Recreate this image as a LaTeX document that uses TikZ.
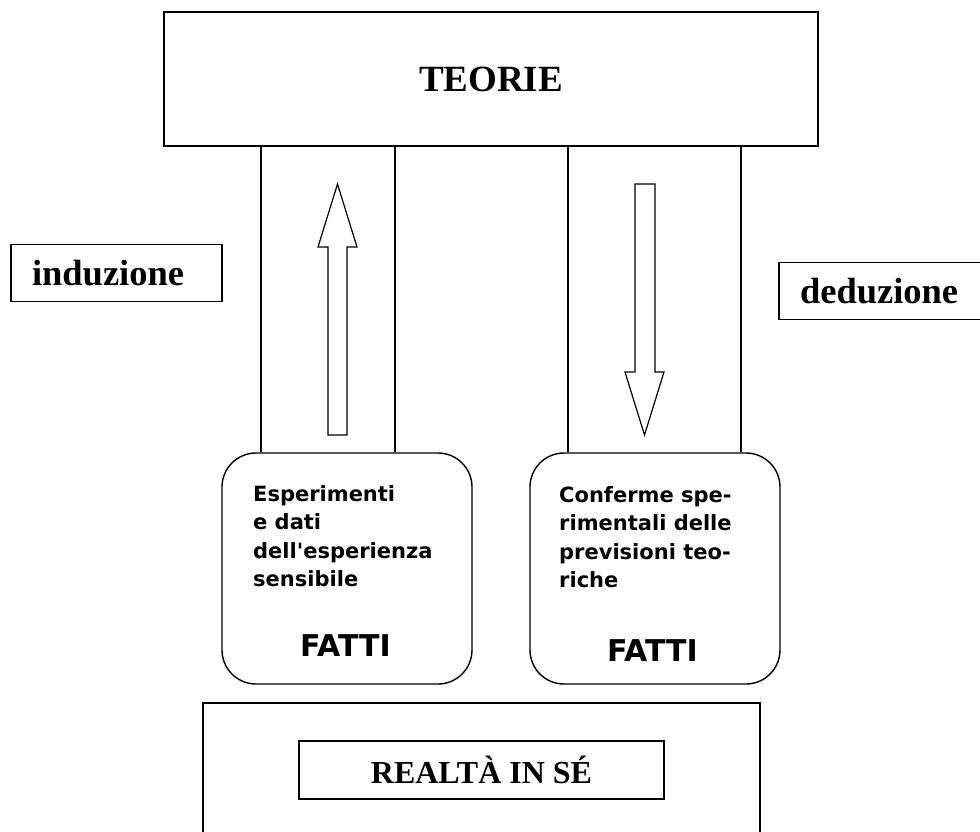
\documentclass[tikz,border=0pt]{standalone}
\usepackage{fontspec}
\setmainfont{Liberation Serif}
\newfontfamily\vsans{DejaVu Sans}
\usetikzlibrary{calc}
\tikzset{
  frame/.style={draw, rectangle, inner sep=0pt, line width=1.5pt},
  roundbox/.style={draw, rectangle, rounded corners=34pt, line width=1.4pt, inner sep=0pt},
  colline/.style={line width=1.4pt},
  blockarrow/.style={draw, line width=1.2pt, line join=miter, fill=white},
  titlefont/.style={font=\bfseries\fontsize{37}{40}\selectfont},
  sidefont/.style={font=\bfseries\fontsize{36.5}{40}\selectfont},
  realtafont/.style={font=\bfseries\fontsize{32}{36}\selectfont},
  boxtext/.style={font=\vsans\bfseries\fontsize{21}{28.5}\selectfont, align=left, inner sep=0pt, anchor=north west},
  fattifont/.style={font=\vsans\bfseries\fontsize{30}{32}\selectfont, inner sep=0pt, anchor=base},
}
\begin{document}
\begin{tikzpicture}[x=1pt,y=-1pt]
\clip (0,0) rectangle (980,831);
\fill[white] (0,0) rectangle (980,831);

% TEORIE
\node[frame, titlefont, minimum width=654pt, minimum height=134pt] (teorie) at (491,79) {TEORIE};

% side labels
\node[frame, sidefont, text width=169pt, inner xsep=21pt, minimum height=57pt, align=left] (induz) at (116.5,273) {induzione};
\node[frame, sidefont, text width=179pt, inner xsep=21pt, minimum height=57pt, align=left] (deduz) at (889.5,291) {deduzione};

% rounded boxes
\node[roundbox, minimum width=250pt, minimum height=231pt] (boxL) at (347,568.5) {};
\node[roundbox, minimum width=250pt, minimum height=231pt] (boxR) at (655,568.5) {};

% column lines
\draw[colline] (teorie.south -| 261,0) -- (boxL.north -| 261,0);
\draw[colline] (teorie.south -| 395,0) -- (boxL.north -| 395,0);
\draw[colline] (teorie.south -| 568,0) -- (boxR.north -| 568,0);
\draw[colline] (teorie.south -| 741,0) -- (boxR.north -| 741,0);

% block arrows
\draw[blockarrow] (328,435) -- (328,247) -- (318,247) -- (337.5,184) -- (357,247) -- (347,247) -- (347,435) -- cycle;
\draw[blockarrow] (635,184) -- (655,184) -- (655,372) -- (664,372) -- (644.5,435) -- (625,372) -- (635,372) -- cycle;

% box texts
\node[boxtext] (txtL) at (253,485) {Esperimenti\\e dati\\dell'esperienza\\sensibile};
\node[boxtext] (txtR) at (559,486) {Conferme spe-\\rimentali delle\\previsioni teo-\\riche};
\node[fattifont] (fattiL) at (345.5,656) {FATTI};
\node[fattifont] (fattiR) at (652.5,661) {FATTI};

% reality
\node[frame, minimum width=557pt, minimum height=200pt] (realta) at (481.5,803) {};
\node[frame, realtafont, minimum width=365pt, minimum height=58pt] (realtaT) at (481.5,770) {REALTÀ IN SÉ};
\end{tikzpicture}
\end{document}
